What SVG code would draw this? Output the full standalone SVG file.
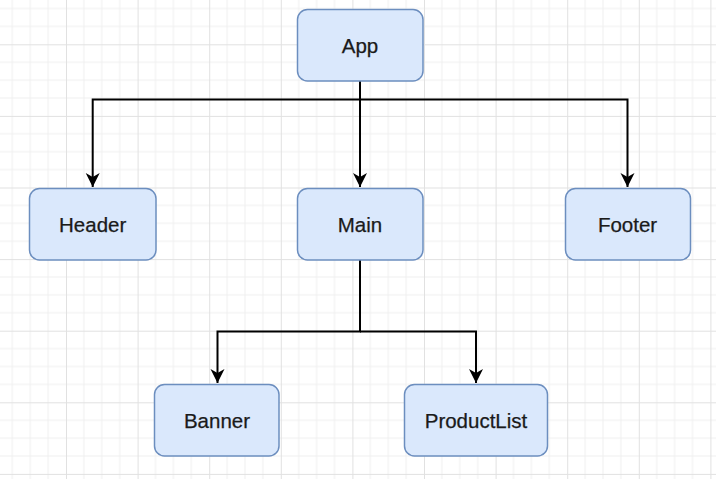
<svg xmlns="http://www.w3.org/2000/svg" width="716" height="479" viewBox="0 0 716 479">
  <defs>
    <pattern id="grid" patternUnits="userSpaceOnUse" x="66" y="44.3" width="71.6" height="71.6">
      <path d="M17.9,0 V71.6 M35.8,0 V71.6 M53.7,0 V71.6 M0,17.9 H71.6 M0,35.8 H71.6 M0,53.7 H71.6" stroke="#f0f0f0" stroke-width="1" fill="none"/>
      <path d="M0.5,0 V71.6 M0,0.5 H71.6" stroke="#e1e1e1" stroke-width="1" fill="none"/>
    </pattern>
    <marker id="arrow" markerUnits="userSpaceOnUse" viewBox="0 0 16 16" markerWidth="16" markerHeight="16" refX="15" refY="8" orient="auto">
      <path d="M1,1 L15,8 L1,15 L5,8 Z" fill="#000"/>
    </marker>
    <style>
      .node rect { fill: #dae8fc; stroke: #6c8ebf; stroke-width: 1.5; }
      .node text { font-family: "Liberation Sans", Arial, sans-serif; font-size: 20.5px; fill: #1a1a1a; stroke: #1a1a1a; stroke-width: 0.25; text-anchor: middle; }
      .edge { fill: none; stroke: #000; stroke-width: 2; }
    </style>
  </defs>
  <rect x="0" y="0" width="716" height="479" fill="#fff"/>
  <rect x="0" y="0" width="716" height="479" fill="url(#grid)"/>

  <g id="connectors">
    <path class="edge" d="M360,81 V99.5 H92.7 V187" marker-end="url(#arrow)"/>
    <path class="edge" d="M360,81 V187" marker-end="url(#arrow)"/>
    <path class="edge" d="M360,99.5 H627.5 V187" marker-end="url(#arrow)"/>
    <path class="edge" d="M360,260 V331.5 H217.5 V383" marker-end="url(#arrow)"/>
    <path class="edge" d="M360,331.5 H476 V383" marker-end="url(#arrow)"/>
  </g>

  <g id="app" class="node">
    <rect x="297.5" y="9.5" width="125.5" height="71.5" rx="10"/>
    <text x="360" y="52.5">App</text>
  </g>
  <g id="header" class="node">
    <rect x="29.5" y="188.5" width="126.5" height="71.5" rx="10"/>
    <text x="92.7" y="231.5">Header</text>
  </g>
  <g id="main" class="node">
    <rect x="297.5" y="188.5" width="125.5" height="71.5" rx="10"/>
    <text x="360" y="231.5">Main</text>
  </g>
  <g id="footer" class="node">
    <rect x="565.5" y="188.5" width="125" height="71.5" rx="10"/>
    <text x="627.5" y="231.5">Footer</text>
  </g>
  <g id="banner" class="node">
    <rect x="154.5" y="384.5" width="124.5" height="71.5" rx="10"/>
    <text x="217" y="427.5">Banner</text>
  </g>
  <g id="productlist" class="node">
    <rect x="404.5" y="384.5" width="143" height="71.5" rx="10"/>
    <text x="476" y="427.5">ProductList</text>
  </g>
</svg>
